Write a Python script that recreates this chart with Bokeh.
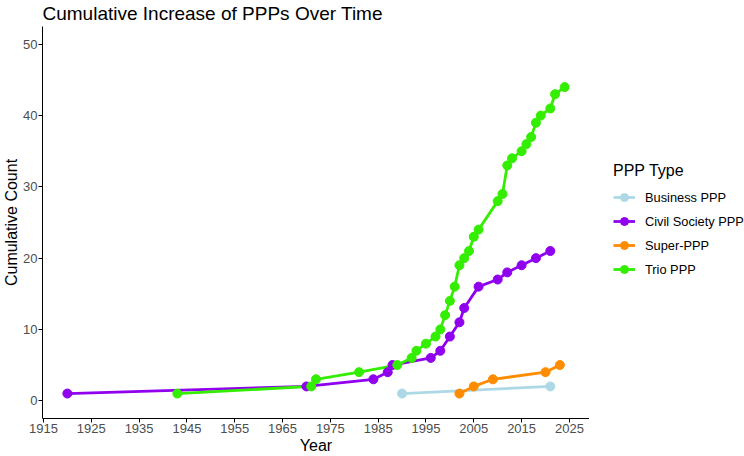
from bokeh.plotting import figure
from bokeh.models import Range1d, Legend, LegendItem, FixedTicker
from bokeh.layouts import row
from bokeh.embed import file_html
from bokeh.resources import INLINE

# Data
business_years = [1990, 2021]
business_counts = [1, 2]

civil_years = [1920, 1970, 1984, 1987, 1988, 1996, 1998, 2000, 2002, 2003, 2006, 2010, 2012, 2015, 2018, 2021]
civil_counts = [1, 2, 3, 4, 5, 6, 7, 9, 11, 13, 16, 17, 18, 19, 20, 21]

super_years = [2002, 2005, 2009, 2020, 2023]
super_counts = [1, 2, 3, 4, 5]

trio_years = [1943, 1971, 1972, 1981, 1989, 1992, 1993, 1995, 1997, 1998, 1999, 2000, 2001, 2002, 2003,
              2004, 2005, 2006, 2010, 2011, 2012, 2013, 2015, 2016, 2017, 2018, 2019, 2021, 2022, 2024]
trio_counts = [1, 2, 3, 4, 5, 6, 7, 8, 9, 10, 12, 14, 16, 19, 20,
               21, 23, 24, 28, 29, 33, 34, 35, 36, 37, 39, 40, 41, 43, 44]

series_names = ["Business PPP", "Civil Society PPP", "Super-PPP", "Trio PPP"]
series_colors = ["#ADD8E6", "#9000EE", "#FF8C00", "#33EE00"]
x_ticks = [1915, 1925, 1935, 1945, 1955, 1965, 1975, 1985, 1995, 2005, 2015, 2025]
y_ticks = [0, 10, 20, 30, 40, 50]

series = [
    (business_years, business_counts),
    (civil_years, civil_counts),
    (super_years, super_counts),
    (trio_years, trio_counts),
]

FONT = "Liberation Sans"

p = figure(width=589, height=456, output_backend="svg", toolbar_location=None,
           x_range=Range1d(1914.8, 2029.2), y_range=Range1d(-2.5, 52.5),
           min_border_left=41, min_border_right=0, min_border_top=26, min_border_bottom=36)

p.title.text = "Cumulative Increase of PPPs Over Time"
p.title.text_font = FONT
p.title.text_font_size = "19px"
p.title.text_font_style = "normal"
p.title.text_color = "#000000"
p.title.align = "left"
p.title.vertical_align = "top"
p.title.offset = 0
p.title.standoff = 2

p.outline_line_color = None
p.background_fill_color = "white"
p.border_fill_color = "white"
p.xgrid.visible = False
p.ygrid.visible = False

for ax, ticks in ((p.xaxis[0], x_ticks), (p.yaxis[0], y_ticks)):
    ax.ticker = FixedTicker(ticks=ticks)
    ax.axis_line_color = "black"
    ax.axis_line_width = 1
    ax.major_tick_line_color = "black"
    ax.major_tick_out = 4
    ax.major_tick_in = 0
    ax.minor_tick_line_color = None
    ax.major_label_text_font = FONT
    ax.major_label_text_font_size = "13px"
    ax.major_label_text_color = "#4D4D4D"
    ax.axis_label_text_font = FONT
    ax.axis_label_text_font_size = "16px"
    ax.axis_label_text_font_style = "normal"
    ax.axis_label_text_color = "#000000"

p.xaxis.major_label_standoff = 1
p.xaxis.axis_label_standoff = 1
p.yaxis.major_label_standoff = 1
p.yaxis.axis_label_standoff = 0

p.xaxis.axis_label = "Year"
p.yaxis.axis_label = "Cumulative Count"

for (xs, ys), c in zip(series, series_colors):
    p.line(xs, ys, line_color=c, line_width=2.8)
for (xs, ys), c in zip(series, series_colors):
    p.scatter(xs, ys, marker="circle", size=9, fill_color=c, line_color=c)

# Legend panel (separate plot so the legend is not clipped)
p2 = figure(width=155, height=456, output_backend="svg", toolbar_location=None,
            x_range=Range1d(0, 1), y_range=Range1d(0, 1),
            x_axis_location=None, y_axis_location=None,
            min_border_left=0, min_border_right=0, min_border_top=0, min_border_bottom=0)
p2.outline_line_color = None
p2.xgrid.visible = False
p2.ygrid.visible = False
p2.background_fill_color = "white"
p2.border_fill_color = "white"

items = []
for n, c in zip(series_names, series_colors):
    l = p2.line([-10, -9], [-10, -10], line_color=c, line_width=2.8)
    d = p2.scatter([-10], [-10], marker="circle", size=9, fill_color=c, line_color=c)
    items.append(LegendItem(label=n, renderers=[l, d]))

legend = Legend(items=items, location=(24, 139), title="PPP Type",
                title_text_font=FONT, title_text_font_size="16px", title_text_font_style="normal",
                title_text_color="#000000", title_standoff=7,
                label_text_font=FONT, label_text_font_size="12.8px", label_text_color="#000000",
                glyph_width=22, glyph_height=20, label_height=20, label_standoff=10, spacing=4,
                padding=0, margin=0, border_line_color=None, background_fill_alpha=0)
p2.add_layout(legend, "center")

layout = row(p, p2)
open("out.html", "w").write(file_html(layout, INLINE))
